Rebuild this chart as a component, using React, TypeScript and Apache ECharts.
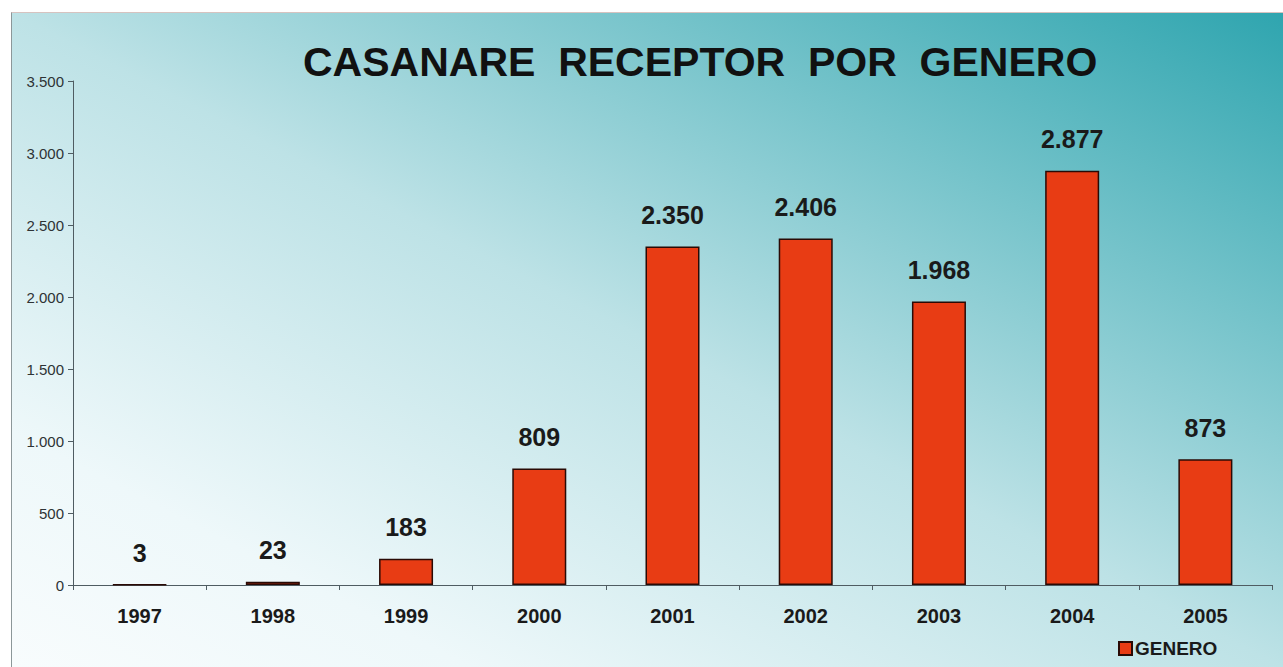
import React, { useEffect, useRef } from "react";
import * as echarts from "echarts";

const years = ["1997", "1998", "1999", "2000", "2001", "2002", "2003", "2004", "2005"];
const genero = [3, 23, 183, 809, 2350, 2406, 1968, 2877, 873];
const titleText = "CASANARE  RECEPTOR  POR  GENERO";
const seriesName = "GENERO";

const fmt = (v: number) => String(v).replace(/\B(?=(\d{3})+(?!\d))/g, ".");

export default function App() {
  const ref = useRef<HTMLDivElement>(null);
  useEffect(() => {
    document.body.style.margin = "0";
    const chart = echarts.init(ref.current!, null, { renderer: "svg" });
    const font = "'Liberation Sans', Arial, Helvetica, sans-serif";
    chart.setOption({
      animation: false,
      backgroundColor: "transparent",
      textStyle: { fontFamily: font },
      title: {
        text: titleText,
        left: 298,
        top: 36,
        textStyle: { fontSize: 41, fontWeight: "bold", color: "#111", fontFamily: font },
      },
      legend: {
        data: [seriesName],
        left: 1113,
        top: 634,
        icon: "rect",
        itemWidth: 13,
        itemHeight: 13,
        itemGap: 4,
        textStyle: { fontSize: 19, fontWeight: "bold", color: "#1a1a1a", padding: [0, 0, 0, -2] },
      },
      grid: { left: 73, right: 11, top: 81, bottom: 82 },
      xAxis: {
        type: "category",
        data: years,
        boundaryGap: true,
        axisLine: { show: true, lineStyle: { color: "#4f5c62", width: 1 } },
        axisTick: { show: true, length: 5, alignWithLabel: false, lineStyle: { color: "#4f5c62" } },
        axisLabel: { fontSize: 20, fontWeight: "bold", color: "#1a1a1a", margin: 21, fontFamily: font },
      },
      yAxis: {
        type: "value",
        min: 0,
        max: 3500,
        interval: 500,
        splitLine: { show: false },
        axisLine: { show: true, lineStyle: { color: "#4f5c62", width: 1 } },
        axisTick: { show: true, length: 5, lineStyle: { color: "#4f5c62" } },
        axisLabel: { fontSize: 15, color: "#2e3335", margin: 9, formatter: (v: number) => fmt(v), fontFamily: font },
      },
      series: [
        {
          name: seriesName,
          type: "bar",
          data: genero,
          barWidth: 54,
          itemStyle: { color: "#E83C14", borderColor: "#2a0a05", borderWidth: 1.5 },
          label: {
            show: true,
            position: "top",
            distance: 19,
            fontSize: 25,
            fontWeight: "bold",
            color: "#1a1a1a",
            fontFamily: font,
            formatter: (p: any) => fmt(p.value),
          },
        },
      ],
    });
    return () => chart.dispose();
  }, []);
  return (
    <div style={{ position: "fixed", left: 0, top: 0, width: 1283, height: 667, background: "#ffffff" }}>
      <div
        style={{
          position: "absolute",
          left: 11,
          top: 12,
          width: 1272,
          height: 655,
          boxSizing: "border-box",
          borderLeft: "1px solid #8c9799",
          borderTop: "1px solid #d6c3c0",
          background: "linear-gradient(to top right, #f8fcfd 0%, #eef8fa 18%, #bde2e6 50%, #2fa5af 100%)",
        }}
      />
      <div ref={ref} style={{ position: "absolute", left: 0, top: 0, width: 1283, height: 667 }} />
    </div>
  );
}
